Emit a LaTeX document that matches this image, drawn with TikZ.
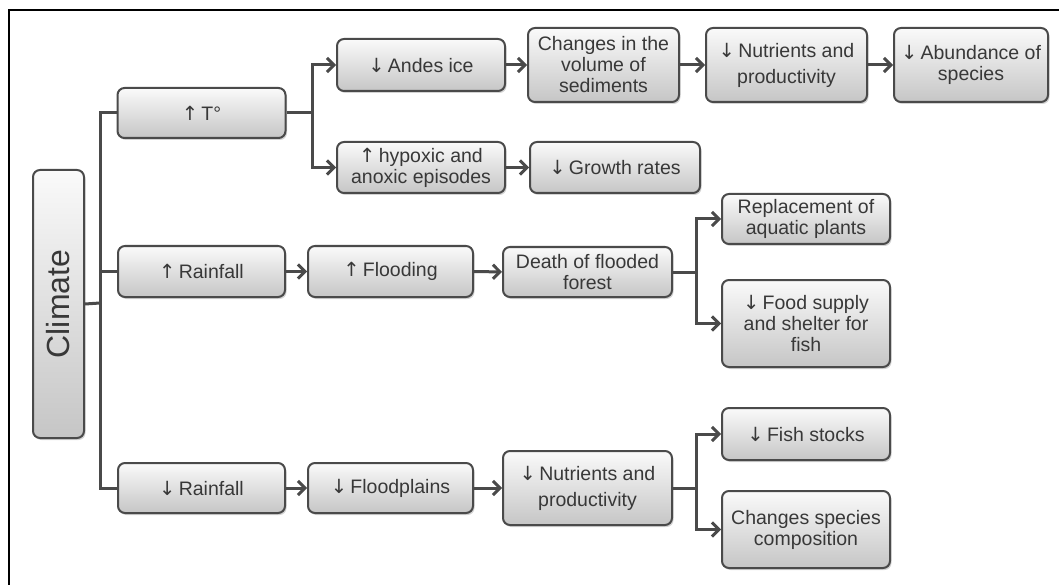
\documentclass[tikz,border=0pt]{standalone}
\usepackage{fontspec}
\setmainfont{Liberation Sans}
\newfontfamily\arrfont{DejaVu Sans}
\newcommand{\upar}{{\arrfont ↑}\,}
\newcommand{\dnar}{{\arrfont ↓}\,}
\usetikzlibrary{arrows.meta,shadows,calc}
\definecolor{edge}{HTML}{4A4A4A}
\definecolor{txt}{HTML}{383838}
\tikzset{
  sz/.style 2 args={minimum width=#1pt, minimum height=#2pt},
  bx/.style={draw=edge, line width=2pt, rounded corners=7pt,
    top color=gray!4, bottom color=gray!45, text=txt, align=center,
    inner sep=0pt, font=\fontsize{19.5}{21}\selectfont,
    drop shadow={shadow xshift=1.5pt, shadow yshift=-2pt, opacity=0.35, fill=gray}},
  ln/.style={draw=edge, line width=3pt},
  ar/.style={ln, -{Straight Barb[length=7pt,width=14pt]}},
}
\begin{document}
\begin{tikzpicture}[x=1pt,y=1pt]
\useasboundingbox (0,0) rectangle (1059,-585);
\draw[line width=2.6pt, black] (9,-585) -- (9,-10) -- (1059,-10);

% nodes
\node[bx, rotate=90, sz={268}{51}, font=\fontsize{32}{34}\selectfont] (cl) at (58.5,-304) {Climate};
\node[bx, sz={168}{50}] (T) at (201.5,-113) {\upar T°};
\node[bx, sz={168}{52}] (andes) at (421,-65) {\dnar Andes ice};
\node[bx, sz={168}{51}] (hyp) at (421,-167.5) {\upar hypoxic and\\anoxic episodes};
\node[bx, sz={170}{51}] (growth) at (615,-167.5) {\dnar Growth rates};
\node[bx, sz={151}{74}] (chg) at (603.5,-65) {Changes in the\\volume of\\sediments};
\node[bx, sz={161}{74}] (nutt) at (786.5,-65) {\dnar Nutrients and\\[5pt]productivity};
\node[bx, sz={154}{74}] (abund) at (971,-65) {\dnar Abundance of\\species};

\node[bx, sz={167}{51}] (rup) at (201.5,-271.5) {\upar Rainfall};
\node[bx, sz={165}{51}] (flood) at (390.5,-271.5) {\upar Flooding};
\node[bx, sz={169}{50}] (death) at (587.5,-272) {Death of flooded\\forest};
\node[bx, sz={168}{50}] (repl) at (806,-219) {Replacement of\\aquatic plants};
\node[bx, sz={168}{87}] (food) at (806,-323.5) {\dnar Food supply\\and shelter for\\fish};

\node[bx, sz={167}{50}] (rdn) at (201.5,-488) {\dnar Rainfall};
\node[bx, sz={165}{50}] (fpl) at (390.5,-488) {\dnar Floodplains};
\node[bx, sz={169}{74}] (nutb) at (587.5,-488) {\dnar Nutrients and\\[5pt]productivity};
\node[bx, sz={168}{52}] (fish) at (806,-434) {\dnar Fish stocks};
\node[bx, sz={168}{77}] (spec) at (806,-529.5) {Changes species\\composition};

% connectors
\coordinate (tj) at (100,-303);
\draw[ln] (cl.south) -- (tj);
\draw[ln] (T.west) -| (tj) |- (rdn.west);
\draw[ln] (tj |- rup.west) -- (rup.west);

\coordinate (j1) at (312,-113);
\draw[ln] (T.east) -- (j1);
\draw[ar] (j1) |- (andes.west);
\draw[ar] (j1) |- (hyp.west);
\draw[ar] (andes) -- (chg);
\draw[ar] (chg) -- (nutt);
\draw[ar] (nutt) -- (abund);
\draw[ar] (hyp) -- (growth);

\draw[ar] (rup) -- (flood);
\draw[ar] (flood) -- (death);
\coordinate (j2) at (696,-272);
\draw[ln] (death.east) -- (j2);
\draw[ar] (j2) |- (repl.west);
\draw[ar] (j2) |- (food.west);

\draw[ar] (rdn) -- (fpl);
\draw[ar] (fpl) -- (nutb);
\coordinate (j3) at (696,-488);
\draw[ln] (nutb.east) -- (j3);
\draw[ar] (j3) |- (fish.west);
\draw[ar] (j3) |- (spec.west);
\end{tikzpicture}
\end{document}
